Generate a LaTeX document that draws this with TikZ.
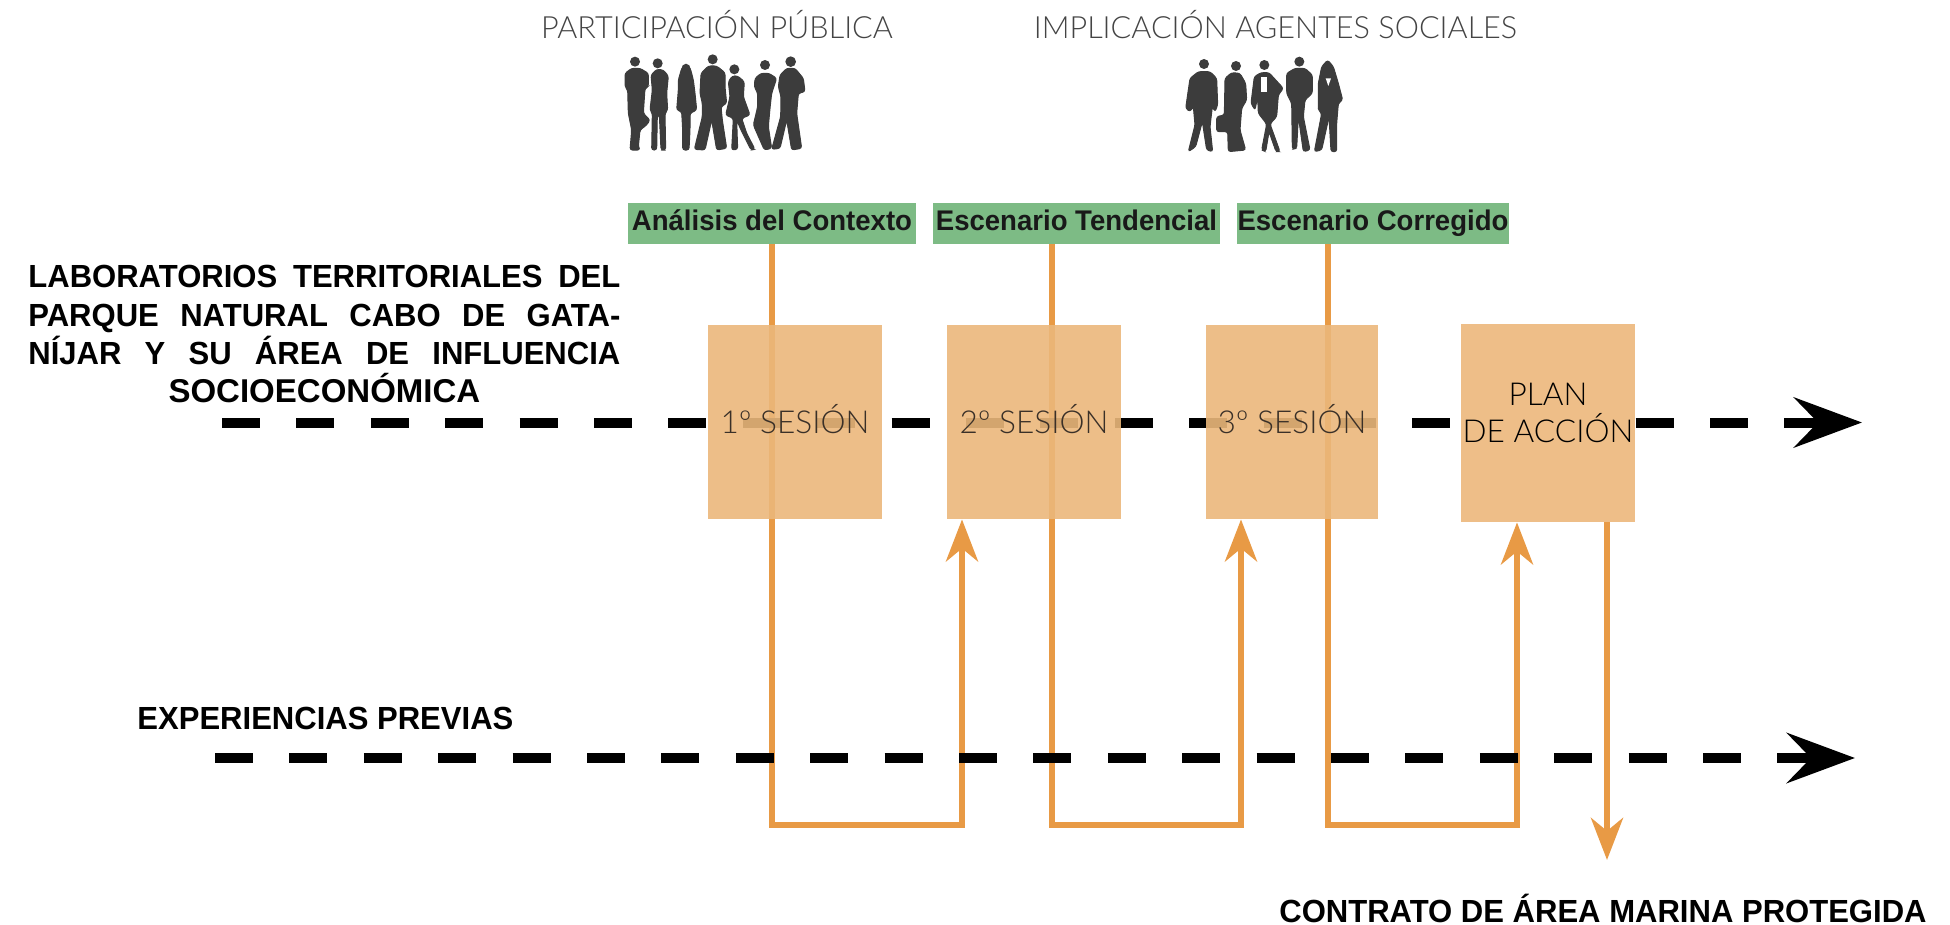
\documentclass[tikz,border=0pt]{standalone}
\usepackage{fontspec}
\usetikzlibrary{arrows.meta}
\setmainfont{Liberation Sans}
\newfontfamily\lightf{Lato Light}
\newfontfamily\boldf[FakeStretch=0.97]{Liberation Sans Bold}
\newfontfamily\boldplain{Liberation Sans Bold}
\definecolor{orangeline}{HTML}{E89A45}
\definecolor{boxfill}{RGB}{235,183,123}
\definecolor{boxsolid}{HTML}{EEBE88}
\definecolor{labelgreen}{HTML}{7DBB85}
\definecolor{silh}{HTML}{3C3C3C}
\definecolor{toptext}{HTML}{444444}
\definecolor{sesstext}{HTML}{3A3028}
\tikzset{
  toplabel/.style={anchor=base,inner sep=0pt,text=toptext,font=\lightf\fontsize{15.3}{18}\selectfont},
  greenlabel/.style={fill=labelgreen,inner sep=0pt,minimum height=20.5pt,text height=10.5pt,text depth=3pt,text=black!90,font=\boldf\fontsize{14.2}{17}\selectfont},
  sessionbox/.style={fill=boxfill,fill opacity=.9,text opacity=1,inner sep=0pt,minimum width=87pt,minimum height=97pt,text height=11pt,text depth=0pt,text=sesstext,font=\lightf\fontsize{15.8}{18}\selectfont},
  planbox/.style={fill=boxsolid,inner sep=0pt,minimum width=87pt,minimum height=99pt},
  plantext/.style={anchor=base,inner sep=0pt,text=black,font=\lightf\fontsize{15.8}{18}\selectfont},
  boldtext/.style={inner sep=0pt,text=black,font=\boldf\fontsize{16}{19.15}\selectfont},
  flow/.style={draw=orangeline,line width=3.25pt,miter limit=10,-{Stealth[length=21pt,width=16pt,inset=6.5pt]}},
  timeline/.style={draw=black,line width=5pt,dash pattern=on 19pt off 18.2pt,-{Stealth[length=34pt,width=25pt,inset=12pt]}},
  person/.style={fill=silh,draw=silh,line width=0.5pt,rounded corners=1.2pt},
}
\begin{document}
\begin{tikzpicture}[x=0.5pt,y=-0.5pt]
\useasboundingbox (0,0) rectangle (1950,925);
% top labels
\node[toplabel] (pp) at (717,39) {PARTICIPACIÓN PÚBLICA};
\node[toplabel] (ia) at (1275.5,39) {IMPLICACIÓN AGENTES SOCIALES};
% silhouettes: public
\begin{scope}[shift={(615,50)},x=0.16667pt,y=-0.16667pt]
\fill[silh] (60,35) circle (15) (128,40) circle (15) (213,58) ellipse (14 and 17) (293,28) circle (15) (358,58) circle (15) (450,45) circle (15) (527,35) circle (16);
\filldraw[person] (30,70)--(50,55)--(75,55)--(100,70)--(100,110)--(90,115)--(85,190)--(105,210)--(95,225)--(75,240)--(70,290)--(75,300)--(45,300)--(50,240)--(40,190)--(38,120)--(30,110)--cycle;
\filldraw[person] (108,75)--(125,58)--(145,60)--(160,78)--(155,130)--(158,180)--(150,190)--(152,300)--(138,300)--(133,195)--(127,195)--(125,300)--(110,300)--(112,190)--(105,180)--(112,120)--cycle;
\filldraw[person] (200,55)--(213,43)--(226,55)--(235,90)--(240,130)--(245,180)--(225,190)--(225,240)--(222,300)--(203,300)--(203,240)--(200,185)--(185,180)--(190,120)--(190,90)--cycle;
\filldraw[person] (258,70)--(280,48)--(305,48)--(330,68)--(330,110)--(335,160)--(318,170)--(322,210)--(335,295)--(305,300)--(290,210)--(270,300)--(238,298)--(262,200)--(262,160)--(255,130)--cycle;
\filldraw[person] (340,95)--(352,78)--(368,78)--(388,95)--(385,140)--(405,195)--(380,205)--(395,250)--(420,298)--(408,300)--(378,240)--(365,210)--(368,298)--(350,300)--(355,205)--(332,195)--(345,140)--cycle;
\filldraw[person] (420,85)--(438,70)--(462,70)--(485,85)--(470,130)--(465,175)--(460,230)--(470,295)--(448,300)--(415,225)--(428,170)--(428,130)--(418,110)--cycle;
\filldraw[person] (495,75)--(515,55)--(540,55)--(565,85)--(570,125)--(550,130)--(545,190)--(560,295)--(530,300)--(515,210)--(495,295)--(470,298)--(497,200)--(498,140)--(490,110)--cycle;
\end{scope}
% silhouettes: agents
\begin{scope}[shift={(1175,50)},x=0.16667pt,y=-0.16667pt]
\fill[silh] (87,42) circle (15) (183,48) circle (15) (268,45) circle (15) (373,35) circle (15);
\filldraw[person] (45,85)--(70,65)--(105,65)--(125,85)--(128,165)--(120,185)--(112,170)--(105,230)--(113,305)--(95,300)--(82,215)--(62,290)--(40,305)--(60,225)--(55,170)--(45,185)--(32,175)--cycle;
\filldraw[person] (150,85)--(170,68)--(195,70)--(212,100)--(215,150)--(200,175)--(195,240)--(212,300)--(160,305)--(158,245)--(125,245)--(125,200)--(148,195)--cycle;
\filldraw[person] (238,80)--(258,68)--(282,68)--(325,115)--(310,135)--(305,200)--(285,222)--(315,305)--(303,305)--(282,245)--(272,305)--(260,300)--(275,222)--(250,190)--(248,140)--(240,180)--(228,160)--cycle;
\fill[white] (258,82)--(275,82)--(275,125)--(258,125)--cycle;
\filldraw[person] (335,70)--(360,55)--(390,55)--(412,75)--(412,130)--(390,150)--(385,200)--(405,300)--(385,305)--(370,200)--(365,295)--(352,298)--(350,160)--(335,130)--cycle;
\filldraw[person] (440,50)--(458,30)--(475,50)--(490,100)--(503,150)--(490,160)--(485,220)--(485,305)--(468,305)--(462,200)--(440,300)--(418,305)--(440,190)--(430,180)--(430,100)--cycle;
\fill[white] (452,85)--(468,85)--(460,108)--cycle;
\end{scope}
% anchors for connectors
\coordinate (a1) at (772,825);
\coordinate (b1) at (962,825);
\coordinate (a2) at (1052,825);
\coordinate (b2) at (1241,825);
\coordinate (a3) at (1328,825);
\coordinate (b3) at (1517,825);
\coordinate (outx) at (1607,860);
\coordinate (l1s) at (222,422.5);
\coordinate (l1e) at (1862,422.5);
\coordinate (l2s) at (215,758);
\coordinate (l2e) at (1855,758);
% green labels
\node[greenlabel,minimum width=144pt] (g1) at (772,223.5) {Análisis del Contexto};
\node[greenlabel,minimum width=143.5pt] (g2) at (1076.5,223.5) {Escenario Tendencial};
\node[greenlabel,minimum width=136pt] (g3) at (1373,223.5) {Escenario Corregido};
% layout of boxes (names only first, so connectors can refer to them)
\path (795,422) coordinate (c1) (1034,422) coordinate (c2) (1292,422) coordinate (c3) (1548,423) coordinate (c4);
\path (c1) node[minimum width=87pt,minimum height=97pt,inner sep=0pt] (s1) {}
      (c2) node[minimum width=87pt,minimum height=97pt,inner sep=0pt] (s2) {}
      (c3) node[minimum width=86pt,minimum height=97pt,inner sep=0pt] (s3) {}
      (c4) node[minimum width=87pt,minimum height=99pt,inner sep=0pt] (s4) {};
% orange connectors
\draw[flow] (g1.south) -- (a1) -- (b1) -- (b1 |- s2.south);
\draw[flow] (a2 |- g2.south) -- (a2) -- (b2) -- (b2 |- s3.south);
\draw[flow] (a3 |- g3.south) -- (a3) -- (b3) -- (b3 |- s4.south);
\draw[flow] (outx |- s4.south) -- (outx);
% dashed timelines
\draw[timeline] (l2s) -- (l2e);
\draw[timeline] (l1s) -- (l1e);
% session boxes
\node[sessionbox] at (c1) {1º SESIÓN};
\node[sessionbox] at (c2) {2º SESIÓN};
\node[sessionbox,minimum width=86pt] at (c3) {3º SESIÓN};
\node[planbox] at (c4) {};
\node[plantext] (pl1) at (1548,406) {PLAN};
\node[plantext] (pl2) at (1548,443) {DE ACCIÓN};
% bold texts
\node[boldtext,anchor=north west,text width=296pt,align=center] (lab) at (28,265) {%
\leavevmode\hbox to 296pt{LABORATORIOS\hfill TERRITORIALES\hfill DEL}\\
\leavevmode\hbox to 296pt{PARQUE\hfill NATURAL\hfill CABO\hfill DE\hfill GATA-}\\
\leavevmode\hbox to 296pt{NÍJAR\hfill Y\hfill SU\hfill ÁREA\hfill DE\hfill INFLUENCIA}\\
{\boldplain\fontsize{16.5}{19.15}\selectfont SOCIOECONÓMICA}};
\node[boldtext,anchor=base west] (exp) at (137,729) {EXPERIENCIAS PREVIAS};
\node[boldtext,anchor=base east] (con) at (1927,922) {CONTRATO DE ÁREA MARINA PROTEGIDA};
\end{tikzpicture}
\end{document}
